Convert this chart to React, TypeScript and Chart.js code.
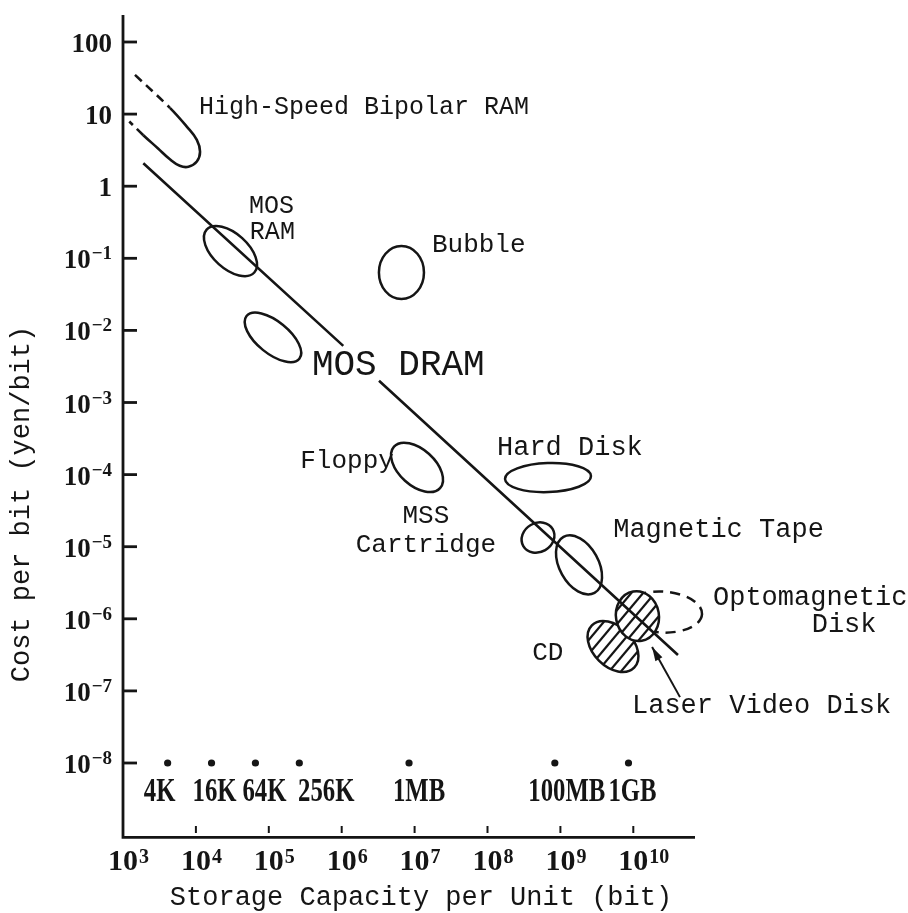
import React, { useEffect, useRef } from 'react';
import { Chart, registerables } from 'chart.js';

Chart.register(...registerables);

// ---------- axis ticks ----------
const yTickValues = [1e2, 1e1, 1, 1e-1, 1e-2, 1e-3, 1e-4, 1e-5, 1e-6, 1e-7, 1e-8];
const yTickBase = ['100', '10', '1', '10', '10', '10', '10', '10', '10', '10', '10'];
const yTickExp = ['', '', '', '\u22121', '\u22122', '\u22123', '\u22124', '\u22125', '\u22126', '\u22127', '\u22128'];
const xTickValues = [1e3, 1e4, 1e5, 1e6, 1e7, 1e8, 1e9, 1e10];
const xTickExp = ['3', '4', '5', '6', '7', '8', '9', '10'];

// ---------- memory chip capacity markers ----------
const chipLabels = ['4K', '16K', '64K', '256K', '1MB', '100MB', '1GB'];
const chipBits = [4096, 16384, 65536, 262144, 8388608, 838860800, 8589934592];
const chipCost = [1e-8, 1e-8, 1e-8, 1e-8, 1e-8, 1e-8, 1e-8];

// ---------- MOS DRAM trend line (gap for its label) ----------
const trendX = [1900, 1.05e6, 1.8e6, 3.25e6, 4.1e10];
const trendY = [2.08, 6.1e-3, null, 2.0e-3, 3.15e-7];

// ---------- High-speed bipolar RAM outline (open U) ----------
const bipolarX = [1460, 4400, 7500, 10300, 11400, 10300, 7900, 6000, 4400, 3000, 1900, 1220];
const bipolarY = [35, 12.2, 6.7, 4.4, 3.0, 2.2, 1.86, 1.92, 2.36, 3.36, 5.1, 7.9];

// ---------- device regions (centre, semi-axes in decades, tilt in degrees) ----------
const regionNames = ['MOS RAM', 'MOS DRAM', 'Bubble', 'Floppy', 'Hard Disk', 'MSS Cartridge', 'Magnetic Tape', 'Optomagnetic Disk (range)', 'CD', 'Optomagnetic Disk'];
const regionX = [2.98e4, 1.14e5, 6.6e6, 1.08e7, 6.76e8, 4.93e8, 1.8e9, 2.48e10, 5.27e9, 1.14e10];
const regionY = [0.126, 8.0e-3, 0.0635, 1.26e-4, 9.1e-5, 1.34e-5, 5.6e-6, 1.24e-6, 4.13e-7, 1.09e-6];
const regionMajor = [0.44, 0.466, 0.364, 0.425, 0.59, 0.233, 0.439, 0.549, 0.41, 0.343];
const regionMinor = [0.24, 0.22, 0.309, 0.247, 0.199, 0.199, 0.267, 0.281, 0.274, 0.295];
const regionAngle = [42, 39, 90, 42, -2, -30, 61, 3, 45, 80];
const regionStyle = ['solid', 'solid', 'solid', 'solid', 'solid', 'solid', 'solid', 'dashed', 'hatched', 'hatched'];

// ---------- annotations ----------
const noteTexts = ['High-Speed Bipolar RAM', 'MOS', 'RAM', 'Bubble', 'MOS DRAM', 'Floppy', 'MSS', 'Cartridge', 'Hard Disk', 'Magnetic Tape', 'Optomagnetic', 'Disk', 'CD', 'Laser Video Disk'];
const noteX = [1.1e4, 5.35e4, 5.5e4, 1.73e7, 3.9e5, 2.7e5, 1.43e7, 1.43e7, 1.35e8, 5.3e9, 1.24e11, 2.8e12, 4.1e8, 9.6e9];
const noteY = [10, 0.425, 0.185, 0.124, 2.4e-3, 1.23e-4, 2.13e-5, 8.4e-6, 1.87e-4, 1.36e-5, 1.55e-6, 6.6e-7, 2.7e-7, 4.9e-8];
const noteAlign: CanvasTextAlign[] = ['left', 'left', 'left', 'left', 'left', 'left', 'center', 'center', 'left', 'left', 'left', 'left', 'left', 'left'];
const noteSize = [25, 25, 25, 26, 36, 26, 26, 26, 27, 27, 27, 27, 26, 27];

const arrowX = [4.37e10, 1.81e10];
const arrowY = [8.2e-8, 4.07e-7];

const xTitle = 'Storage Capacity per Unit (bit)';
const yTitle = 'Cost per bit (yen/bit)';

// label nudges (pixels) for the chip-size labels, as hand-placed in the original
const chipLabelShift = [-8, 3, 9, 27, 10, 12, 4];

const INK = '#151515';
const MONO = '"Liberation Mono", "DejaVu Sans Mono", monospace';
const SERIF = '"Liberation Serif", "DejaVu Serif", serif';

const sketchPlugin = {
  id: 'sketch',
  beforeDatasetsDraw(chart: any) {
    const { ctx } = chart;
    const xs = chart.scales.x;
    const ys = chart.scales.y;
    const dec = xs.getPixelForValue(1e4) - xs.getPixelForValue(1e3);
    ctx.save();
    ctx.strokeStyle = INK;
    ctx.lineWidth = 2.5;
    regionX.forEach((rx: number, i: number) => {
      const cx = xs.getPixelForValue(rx);
      const cy = ys.getPixelForValue(regionY[i]);
      const a = regionMajor[i] * dec;
      const b = regionMinor[i] * dec;
      const rot = (regionAngle[i] * Math.PI) / 180;
      const style = regionStyle[i];
      const path = () => {
        ctx.beginPath();
        ctx.ellipse(cx, cy, a, b, rot, 0, Math.PI * 2);
      };
      if (style === 'hatched') {
        path();
        ctx.fillStyle = '#fff';
        ctx.fill();
        ctx.save();
        ctx.clip();
        ctx.lineWidth = 2.2;
        const R = a + b;
        const dx = Math.cos((50 * Math.PI) / 180);
        const dy = -Math.sin((50 * Math.PI) / 180);
        const nx = -dy;
        const ny = dx;
        for (let d = -R; d <= R; d += 9) {
          const px = cx + d * nx;
          const py = cy + d * ny;
          ctx.beginPath();
          ctx.moveTo(px - R * dx, py - R * dy);
          ctx.lineTo(px + R * dx, py + R * dy);
          ctx.stroke();
        }
        ctx.restore();
        ctx.setLineDash([]);
        path();
        ctx.stroke();
      } else if (style === 'dashed') {
        ctx.setLineDash([10, 7]);
        path();
        ctx.stroke();
        ctx.setLineDash([]);
      } else {
        ctx.setLineDash([]);
        path();
        ctx.stroke();
      }
    });
    ctx.restore();
  },
  afterDraw(chart: any) {
    const { ctx, chartArea } = chart;
    const xs = chart.scales.x;
    const ys = chart.scales.y;
    const { left, right, top, bottom } = chartArea;
    ctx.save();
    ctx.strokeStyle = INK;
    ctx.fillStyle = INK;
    ctx.lineCap = 'butt';

    // axes
    ctx.lineWidth = 2.8;
    ctx.beginPath();
    ctx.moveTo(left, top);
    ctx.lineTo(left, bottom + 1.4);
    ctx.lineTo(right, bottom + 1.4);
    ctx.stroke();

    // y ticks + labels
    yTickValues.forEach((v, i) => {
      const py = ys.getPixelForValue(v);
      ctx.lineWidth = 2.8;
      ctx.beginPath();
      ctx.moveTo(left, py);
      ctx.lineTo(left + 14, py);
      ctx.stroke();
      const rightEdge = left - 11;
      ctx.textBaseline = 'alphabetic';
      ctx.textAlign = 'right';
      let supW = 0;
      if (yTickExp[i]) {
        ctx.font = `bold 19px ${SERIF}`;
        supW = ctx.measureText(yTickExp[i]).width;
        ctx.fillText(yTickExp[i], rightEdge, py + 1);
      }
      ctx.font = `bold 27px ${SERIF}`;
      ctx.fillText(yTickBase[i], rightEdge - supW - (supW ? 1 : 0), py + 10);
    });

    // x ticks + labels
    xTickValues.forEach((v, i) => {
      const px = xs.getPixelForValue(v);
      if (i > 0) {
        ctx.lineWidth = 2;
        ctx.beginPath();
        ctx.moveTo(px, bottom - 3);
        ctx.lineTo(px, bottom - 10);
        ctx.stroke();
      }
      ctx.textBaseline = 'alphabetic';
      ctx.font = `bold 30px ${SERIF}`;
      ctx.textAlign = 'center';
      const w = ctx.measureText('10').width;
      ctx.fillText('10', px, bottom + 34);
      ctx.font = `bold 20px ${SERIF}`;
      ctx.textAlign = 'left';
      ctx.fillText(xTickExp[i], px + w / 2 + 1, bottom + 27);
    });

    // chip labels
    chipBits.forEach((b, i) => {
      const px = xs.getPixelForValue(b) + chipLabelShift[i];
      const py = ys.getPixelForValue(chipCost[i]);
      ctx.save();
      ctx.translate(px, py + 38);
      ctx.scale(0.75, 1);
      ctx.font = `bold 33px ${SERIF}`;
      ctx.textAlign = 'center';
      ctx.textBaseline = 'alphabetic';
      ctx.fillText(chipLabels[i], 0, 0);
      ctx.restore();
    });

    // notes
    noteTexts.forEach((t, i) => {
      ctx.font = `${noteSize[i]}px ${MONO}`;
      ctx.textAlign = noteAlign[i];
      ctx.textBaseline = 'alphabetic';
      ctx.fillText(t, xs.getPixelForValue(noteX[i]), ys.getPixelForValue(noteY[i]));
    });

    // arrow
    const ax0 = xs.getPixelForValue(arrowX[0]);
    const ay0 = ys.getPixelForValue(arrowY[0]);
    const ax1 = xs.getPixelForValue(arrowX[1]);
    const ay1 = ys.getPixelForValue(arrowY[1]);
    ctx.lineWidth = 2;
    ctx.beginPath();
    ctx.moveTo(ax0, ay0);
    ctx.lineTo(ax1, ay1);
    ctx.stroke();
    const ang = Math.atan2(ay1 - ay0, ax1 - ax0);
    const L = 14;
    const W = 4;
    ctx.beginPath();
    ctx.moveTo(ax1, ay1);
    ctx.lineTo(ax1 - L * Math.cos(ang) + W * Math.sin(ang), ay1 - L * Math.sin(ang) - W * Math.cos(ang));
    ctx.lineTo(ax1 - L * Math.cos(ang) - W * Math.sin(ang), ay1 - L * Math.sin(ang) + W * Math.cos(ang));
    ctx.closePath();
    ctx.fill();

    // titles
    ctx.font = `27px ${MONO}`;
    ctx.textAlign = 'center';
    ctx.textBaseline = 'alphabetic';
    ctx.fillText(xTitle, 421, 905);
    ctx.save();
    ctx.translate(22, 504);
    ctx.rotate(-Math.PI / 2);
    ctx.textBaseline = 'middle';
    ctx.fillText(yTitle, 0, 0);
    ctx.restore();

    ctx.restore();
  },
};

export default function App() {
  const ref = useRef<HTMLCanvasElement>(null);
  useEffect(() => {
    const n = bipolarX.length;
    const chart = new Chart(ref.current as HTMLCanvasElement, {
      type: 'scatter',
      data: {
        datasets: [
          {
            label: 'MOS DRAM trend',
            data: trendX.map((x, i) => ({ x, y: trendY[i] as any })),
            showLine: true,
            borderColor: INK,
            borderWidth: 2.6,
            pointRadius: 0,
            spanGaps: false,
            clip: false as any,
          },
          {
            label: 'High-Speed Bipolar RAM',
            data: bipolarX.map((x, i) => ({ x, y: bipolarY[i] })),
            showLine: true,
            borderColor: INK,
            borderWidth: 2.6,
            pointRadius: 0,
            tension: 0.4,
            clip: false as any,
            segment: {
              borderDash: (c: any) => (c.p0DataIndex === 0 || c.p1DataIndex === n - 1 ? [9, 6] : undefined),
            },
          } as any,
          {
            label: 'chip capacity',
            data: chipBits.map((x, i) => ({ x, y: chipCost[i] })),
            showLine: false,
            pointRadius: 3.6,
            pointBackgroundColor: INK,
            pointBorderWidth: 0,
            clip: false as any,
          },
        ],
      },
      options: {
        responsive: false,
        maintainAspectRatio: false,
        animation: false,
        devicePixelRatio: 1,
        layout: { padding: { left: 123, top: 15, right: 213, bottom: 77 }, autoPadding: false } as any,
        plugins: { legend: { display: false }, tooltip: { enabled: false } },
        events: [],
        scales: {
          x: { type: 'logarithmic', display: false, min: 1e3, max: Math.pow(10, 3 + 572 / 72.9) },
          y: { type: 'logarithmic', display: false, min: Math.pow(10, 2 - 794 / 72.1), max: Math.pow(10, 2 + 27 / 72.1) },
        },
      },
      plugins: [sketchPlugin],
    });
    return () => chart.destroy();
  }, []);
  return (
    <div style={{ position: 'absolute', left: 0, top: 0, width: 908, height: 913, background: '#fff' }}>
      <canvas ref={ref} width={908} height={913} style={{ display: 'block', width: 908, height: 913 }} />
    </div>
  );
}
